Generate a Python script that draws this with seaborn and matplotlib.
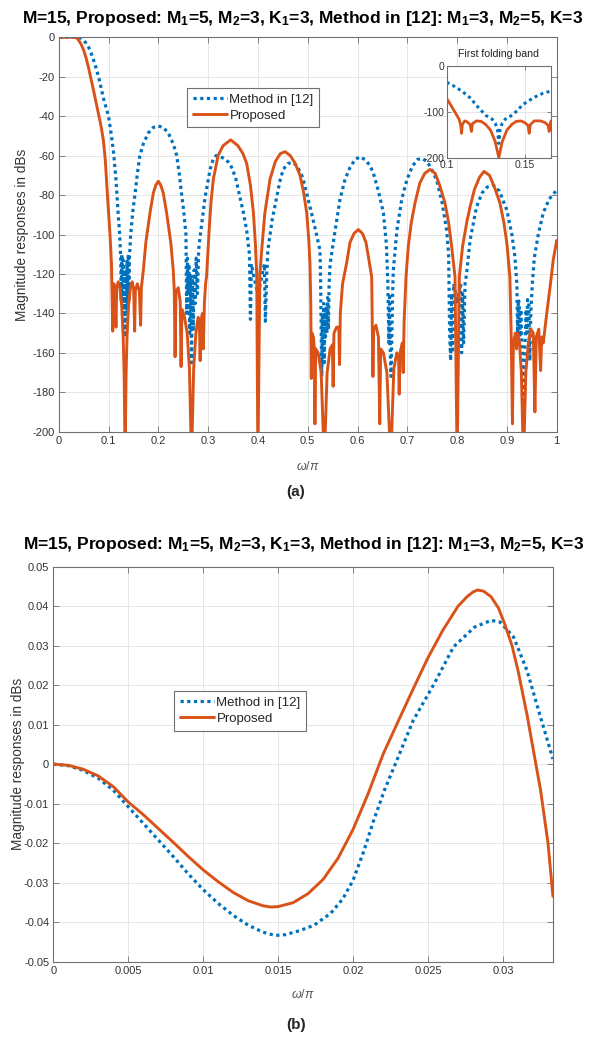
import matplotlib
matplotlib.use("Agg")
import matplotlib.pyplot as plt
import seaborn as sns
import pandas as pd

# ---------------- (a) full band, dB ----------------
omega_method_a = [0.000, 0.010, 0.020, 0.030, 0.040, 0.045, 0.050, 0.055, 0.060, 0.065, 0.070, 0.075,
                  0.080, 0.090, 0.100, 0.106, 0.110, 0.115, 0.119, 0.1225,
                  0.1245, 0.1255, 0.1268, 0.1282, 0.1296, 0.1310, 0.1322, 0.1333, 0.1344, 0.1356,
                  0.1370, 0.1384, 0.1398, 0.1411, 0.1421, 0.1445,
                  0.1490, 0.1530, 0.1580, 0.1630, 0.1700, 0.1800, 0.1900, 0.2000, 0.2100, 0.2200,
                  0.2300, 0.2370, 0.2420, 0.2470, 0.2510, 0.2555,
                  0.2570, 0.2585, 0.2600, 0.2615, 0.2630, 0.2648, 0.2667, 0.2686, 0.2703, 0.2720,
                  0.2740, 0.2760, 0.2785, 0.2810, 0.2840,
                  0.2940, 0.3040, 0.3100, 0.3160, 0.3250, 0.3350, 0.3440, 0.3550, 0.3640, 0.3710,
                  0.3775, 0.3830, 0.3850, 0.3870, 0.3910, 0.3950, 0.4000, 0.4050, 0.4090, 0.4130,
                  0.4150, 0.4176, 0.4200, 0.4290, 0.4377, 0.4450, 0.4510, 0.4600, 0.4700, 0.4780,
                  0.4900, 0.5046, 0.5150, 0.5247,
                  0.5260, 0.5270, 0.5282, 0.5295, 0.5310, 0.5322, 0.5333, 0.5345, 0.5357, 0.5370,
                  0.5385, 0.5400, 0.5415, 0.5430, 0.5450,
                  0.5550, 0.5650, 0.5750, 0.5850, 0.5950, 0.6050, 0.6150, 0.6250, 0.6320, 0.6420,
                  0.6520, 0.6580,
                  0.6610, 0.6630, 0.6645, 0.6660, 0.6675, 0.6690, 0.6705, 0.6720,
                  0.6790, 0.6890, 0.6990, 0.7100, 0.7200, 0.7290, 0.7400, 0.7500, 0.7590, 0.7700,
                  0.7790, 0.7830, 0.7850, 0.7870, 0.7890, 0.7910, 0.7930, 0.7970, 0.8000, 0.8030,
                  0.8070, 0.8090, 0.8110, 0.8130, 0.8160, 0.8190,
                  0.8260, 0.8390, 0.8500, 0.8600, 0.8730, 0.8850, 0.9000, 0.9100, 0.9160,
                  0.9200, 0.9215, 0.9230, 0.9250, 0.9265, 0.9280, 0.9305, 0.9333, 0.9360, 0.9385,
                  0.9400, 0.9415, 0.9440, 0.9460, 0.9480, 0.9510,
                  0.9550, 0.9630, 0.9730, 0.9850, 1.0000]
mag_method_a = [0, 0, 0, 0, 0, -0.5, -1.5, -3, -5, -8, -11.5, -15.5,
                -20, -31, -40, -50, -58, -72, -88, -100,
                -112, -134, -110, -138, -113, -140, -118, -152, -118, -140,
                -113, -138, -110, -134, -112, -100,
                -88, -80, -69, -60, -54, -48.5, -45.7, -45, -45.7, -48.5,
                -54, -60, -69, -80, -88, -100,
                -140, -112, -128, -115, -150, -120, -165, -122, -148, -118,
                -135, -112, -130, -108, -101,
                -81, -67, -62, -60, -60.5, -62, -64, -71, -81, -89,
                -98, -110, -143, -115, -120, -125, -130, -125, -120, -115,
                -144, -121, -108, -92, -81, -72, -67, -64, -63.5, -65,
                -71, -86, -97, -108,
                -125, -148, -172, -140, -150, -135, -165, -138, -152, -136,
                -150, -132, -148, -125, -115,
                -98, -82, -72, -66, -62, -60.6, -62, -65, -69, -78,
                -89, -105,
                -125, -155, -130, -162, -172, -150, -130, -118,
                -98, -82, -72.4, -65.5, -62, -61.4, -63, -67.5, -72.4, -84,
                -98, -110, -150, -164, -130, -160, -125, -130, -135, -130,
                -125, -160, -130, -155, -125, -120,
                -103, -86, -79, -76, -75, -78, -87.7, -100, -111,
                -125, -150, -133, -135, -152, -138, -160, -191, -160, -138,
                -150, -133, -135, -164, -140, -125,
                -112, -100, -89, -82, -77.5]

omega_proposed_a = [0.000, 0.010, 0.020, 0.030, 0.036, 0.040, 0.045, 0.050, 0.055, 0.060, 0.064,
                    0.070, 0.075, 0.080, 0.085, 0.0896, 0.0935, 0.0976, 0.1005, 0.103, 0.106,
                    0.1075, 0.1085, 0.1095, 0.1110, 0.1130, 0.1150, 0.1165, 0.1195, 0.1230, 0.1265,
                    0.1295, 0.1315, 0.1333, 0.1352, 0.1372, 0.1402, 0.1440, 0.1475, 0.1505, 0.1525,
                    0.1540, 0.1580, 0.1620, 0.1645, 0.1660,
                    0.1700, 0.1750, 0.1833, 0.1900, 0.1950, 0.2000, 0.2050, 0.2100, 0.2167, 0.2250,
                    0.2300,
                    0.2320, 0.2337, 0.2355, 0.2400, 0.2440, 0.2457, 0.2475, 0.2520, 0.2580, 0.2625,
                    0.2667, 0.2710, 0.2755, 0.2800, 0.2825, 0.2840, 0.2855, 0.2885, 0.2905, 0.2925,
                    0.2950, 0.2970,
                    0.3020, 0.3060, 0.3105, 0.3200, 0.3300, 0.3454, 0.3600, 0.3700, 0.3775, 0.3850,
                    0.3910, 0.3950, 0.3976, 0.4000, 0.4040,
                    0.4076, 0.4140, 0.4243, 0.4350, 0.4450, 0.4545, 0.4650, 0.4750, 0.4846, 0.4920,
                    0.4980, 0.5020, 0.5046,
                    0.5062, 0.5072, 0.5085, 0.5115, 0.5135, 0.5145, 0.5160, 0.5210, 0.5270, 0.5333,
                    0.5390, 0.5450, 0.5495, 0.5511, 0.5527, 0.5580, 0.5625, 0.5639, 0.5655, 0.5700,
                    0.5780, 0.5850, 0.5930, 0.6016, 0.6100, 0.6170, 0.6217, 0.6285,
                    0.6300, 0.6310, 0.6325, 0.6370, 0.6420, 0.6447, 0.6465, 0.6520, 0.6590, 0.6667,
                    0.6730, 0.6790, 0.6825, 0.6837, 0.6855, 0.6900, 0.6918, 0.6935, 0.6974,
                    0.7020, 0.7080, 0.7155, 0.7250, 0.7350, 0.7456, 0.7560, 0.7650, 0.7757, 0.7830,
                    0.7890, 0.7958, 0.8000, 0.8045,
                    0.8110, 0.8200, 0.8260, 0.8350, 0.8450, 0.8540, 0.8650, 0.8750, 0.8860, 0.8940,
                    0.9000, 0.9060,
                    0.9085, 0.9111, 0.9130, 0.9170, 0.9192, 0.9215, 0.9250, 0.9290, 0.9333, 0.9380,
                    0.9430, 0.9480, 0.9530, 0.9562, 0.9590, 0.9640, 0.9677, 0.9700, 0.9730,
                    0.9800, 0.9870, 0.9930, 1.0000]
mag_proposed_a = [0, 0, 0, 0, -0.3, -1.5, -3.5, -6.5, -10.5, -15.5, -20,
                  -27, -33, -39, -45, -52, -62, -79, -90, -100, -115,
                  -135, -149, -127, -125, -131, -147, -127, -124, -127, -136,
                  -152, -172, -215, -172, -152, -136, -127, -124, -128, -149,
                  -128, -125, -129, -146, -127,
                  -118, -104, -89, -79, -75, -73, -75, -79, -89, -104,
                  -118,
                  -128, -162, -129, -127, -134, -167, -138, -141, -150, -168,
                  -215, -168, -150, -142, -145, -164, -144, -140, -158, -135,
                  -125, -121,
                  -98, -83, -72, -60, -55, -52, -55, -59, -64, -75,
                  -89, -105, -120, -215, -120,
                  -108, -89, -72, -63, -59, -58, -60, -64, -70, -79,
                  -89, -102, -115,
                  -135, -173, -150, -152, -158, -196, -158, -160, -170, -215,
                  -170, -158, -156, -177, -150, -147, -147, -166, -140, -125,
                  -114.7, -104, -99.5, -97.5, -99.5, -104, -111, -121.5,
                  -150, -172, -148, -146, -152, -196, -158, -160, -170, -215,
                  -168, -160, -162, -181, -160, -155, -170, -145, -121.5,
                  -106, -94, -84, -74, -69, -67, -69, -75, -84, -94,
                  -106, -121.5, -215, -121.5,
                  -106, -93, -86, -77, -71, -68, -70, -76, -84, -94,
                  -104.6, -121.5,
                  -150, -196, -155, -150, -158, -150, -154, -170, -215, -170,
                  -155, -148, -150, -190, -152, -148, -169, -152, -155,
                  -140, -126, -113, -103]

# ---------------- inset: first folding band ----------------
omega_method_in = [0.1000, 0.1050, 0.1100, 0.1150, 0.1200, 0.1250, 0.1290, 0.1310, 0.1325, 0.1333,
                   0.1341, 0.1355, 0.1375, 0.1400, 0.1450, 0.1485, 0.1530, 0.1570, 0.1615, 0.1667]
mag_method_in = [-36, -45, -56, -70, -90, -108, -116, -125, -140, -169,
                 -140, -125, -116, -112, -98, -85, -75, -67, -60, -55]

omega_proposed_in = [0.1000, 0.1030, 0.1060, 0.1080, 0.1090, 0.1095, 0.1100, 0.1115, 0.1130, 0.1150,
                     0.1158, 0.1165, 0.1190, 0.1220, 0.1250, 0.1280, 0.1310, 0.1333, 0.1355, 0.1385,
                     0.1415, 0.1445, 0.1475, 0.1500, 0.1520, 0.1527, 0.1535, 0.1560, 0.1600, 0.1630,
                     0.1648, 0.1655, 0.1662, 0.1667]
mag_proposed_in = [-71, -88, -105, -117, -130, -147, -128, -120, -122, -128,
                   -143, -126, -120, -121, -128, -140, -165, -200, -165, -140,
                   -128, -121, -120, -124, -130, -147, -128, -120, -120, -124,
                   -130, -143, -126, -120]

# ---------------- (b) passband detail ----------------
omega_method_b = [0.000, 0.001, 0.002, 0.003, 0.004, 0.005, 0.006, 0.007, 0.008, 0.009, 0.010,
                  0.011, 0.012, 0.013, 0.014, 0.0148, 0.0155, 0.0165, 0.0174, 0.0185, 0.0193,
                  0.0200, 0.0207, 0.02134, 0.0221, 0.0229, 0.0240, 0.0254, 0.0267, 0.0281, 0.0292,
                  0.0298, 0.0307, 0.0316, 0.0325, 0.03333]
mag_method_b = [0.0, -0.0004, -0.0016, -0.0036, -0.0066, -0.0108, -0.0150, -0.0192, -0.0234, -0.0278, -0.0318,
                -0.0353, -0.0383, -0.0408, -0.0426, -0.0434, -0.0432, -0.0421, -0.0408, -0.0378, -0.0342,
                -0.0294, -0.0222, -0.0146, -0.0065, 0.0008, 0.0110, 0.0203, 0.0297, 0.0347, 0.0364,
                0.0360, 0.0322, 0.0237, 0.0119, 0.0013]

omega_proposed_b = [0.000, 0.001, 0.002, 0.003, 0.004, 0.005, 0.006, 0.007, 0.008, 0.009, 0.010,
                    0.011, 0.012, 0.013, 0.014, 0.0145, 0.015, 0.016, 0.017, 0.018, 0.019,
                    0.020, 0.021, 0.022, 0.023, 0.024, 0.025, 0.026, 0.027, 0.0276, 0.028,
                    0.0283, 0.0287, 0.0292, 0.0297, 0.0301, 0.0306, 0.031, 0.0316, 0.032, 0.0325,
                    0.033, 0.03333]
mag_proposed_b = [0.0, -0.0003, -0.0013, -0.0030, -0.0057, -0.0096, -0.0128, -0.0163, -0.0198, -0.0234, -0.0268,
                  -0.0298, -0.0325, -0.0346, -0.0359, -0.0362, -0.0361, -0.0351, -0.0328, -0.0292, -0.0238,
                  -0.0165, -0.0075, 0.0025, 0.0108, 0.0190, 0.0270, 0.0340, 0.0400, 0.0424, 0.0436,
                  0.0441, 0.0438, 0.0424, 0.0395, 0.0356, 0.0300, 0.0237, 0.0125, 0.0040, -0.0065,
                  -0.0200, -0.0335]

series_labels = ["Method in [12]", "Proposed"]
title_text = (r"M=15, Proposed: M$_\mathbf{1}$=5, M$_\mathbf{2}$=3, K$_\mathbf{1}$=3, "
              r"Method in [12]: M$_\mathbf{1}$=3, M$_\mathbf{2}$=5, K=3")
xticks_a = [0, 0.1, 0.2, 0.3, 0.4, 0.5, 0.6, 0.7, 0.8, 0.9, 1.0]
xticklabels_a = ["0", "0.1", "0.2", "0.3", "0.4", "0.5", "0.6", "0.7", "0.8", "0.9", "1"]
yticks_a = [0, -20, -40, -60, -80, -100, -120, -140, -160, -180, -200]
xticks_b = [0, 0.005, 0.01, 0.015, 0.02, 0.025, 0.03]
xticklabels_b = ["0", "0.005", "0.01", "0.015", "0.02", "0.025", "0.03"]
yticks_b = [0.05, 0.04, 0.03, 0.02, 0.01, 0, -0.01, -0.02, -0.03, -0.04, -0.05]
yticklabels_b = ["0.05", "0.04", "0.03", "0.02", "0.01", "0", "-0.01", "-0.02", "-0.03", "-0.04", "-0.05"]

# ---------------- styling ----------------
sns.set_theme(style="white")
plt.rcParams["font.family"] = ["Liberation Sans", "DejaVu Sans"]
plt.rcParams["mathtext.fontset"] = "custom"
plt.rcParams["mathtext.rm"] = "Liberation Sans"
plt.rcParams["mathtext.it"] = "Liberation Sans:italic"
plt.rcParams["mathtext.bf"] = "Liberation Sans:bold"
plt.rcParams["axes.unicode_minus"] = False

BLUE = "#0072BD"
ORANGE = "#D95319"
EDGE = "#707070"
DOTS = (0, (1.0, 1.1))

W, H = 593, 1039
fig = plt.figure(figsize=(W / 100, H / 100), dpi=100)
fig.patch.set_facecolor("white")


def box(l, t, r, b):
    return [l / W, 1 - b / H, (r - l) / W, (b - t) / H]


ax1 = fig.add_axes(box(58.7, 37.3, 556.7, 431.7))
ax2 = fig.add_axes(box(53.3, 566.7, 553.0, 961.5))
axin = fig.add_axes(box(446.7, 65.7, 551.0, 157.7))


def style(ax, fs=8):
    ax.set_facecolor("white")
    for s in ax.spines.values():
        s.set_visible(True)
        s.set_color(EDGE)
        s.set_linewidth(0.8)
    ax.tick_params(direction="in", length=4, width=0.6, color=EDGE, labelcolor="#333333",
                   labelsize=fs, top=True, right=True, bottom=True, left=True, pad=3)
    ax.grid(True, color="#e2e2e2", linewidth=0.6)
    ax.set_axisbelow(True)


def draw(ax, xm, ym, xp, yp, lw=2.1, label=True):
    dfm = pd.DataFrame({"omega": xm, "mag": ym})
    dfp = pd.DataFrame({"omega": xp, "mag": yp})
    sns.lineplot(data=dfm, x="omega", y="mag", ax=ax, color=BLUE, linewidth=lw + 0.2,
                 linestyle=DOTS, estimator=None, sort=False, legend=False,
                 label=series_labels[0] if label else None)
    sns.lineplot(data=dfp, x="omega", y="mag", ax=ax, color=ORANGE, linewidth=lw,
                 estimator=None, sort=False, legend=False,
                 label=series_labels[1] if label else None)


def legend(ax, anchor):
    leg = ax.legend(loc="upper left", bbox_to_anchor=anchor, borderaxespad=0,
                    frameon=True, fancybox=False, edgecolor=EDGE, fontsize=9.5,
                    handlelength=2.6, handletextpad=0.2, labelspacing=0.3, borderpad=0.42)
    leg.get_frame().set_linewidth(0.8)
    leg.get_frame().set_alpha(1)
    return leg


# (a)
draw(ax1, omega_method_a, mag_method_a, omega_proposed_a, mag_proposed_a)
style(ax1)
ax1.set_xlim(0, 1)
ax1.set_ylim(-200, 0)
ax1.set_xticks(xticks_a)
ax1.set_xticklabels(xticklabels_a)
ax1.set_yticks(yticks_a)
ax1.set_yticklabels([str(v) for v in yticks_a])
ax1.set_xlabel(r"$\omega/\pi$", fontsize=9, color="#555555")
ax1.set_ylabel("Magnitude responses in dBs", fontsize=9.8, color="#333333")
ax1.xaxis.set_label_coords(0.5, -0.072)
ax1.yaxis.set_label_coords(-0.06, 0.5)
legend(ax1, (0.2576, 0.8715))

# inset
draw(axin, omega_method_in, mag_method_in, omega_proposed_in, mag_proposed_in, lw=2.0, label=False)
style(axin, fs=7.5)
axin.set_xlim(0.1, 1 / 6)
axin.set_ylim(-200, 0)
axin.set_xticks([0.1, 0.15])
axin.set_xticklabels(["0.1", "0.15"])
axin.set_yticks([-200, -100, 0])
axin.set_yticklabels(["-200", "-100", "0"])
axin.tick_params(length=3, pad=2)
axin.set_xlabel("")
axin.set_ylabel("")
axin.set_title("First folding band", fontsize=7.6, color="#222222", pad=6)

# (b)
draw(ax2, omega_method_b, mag_method_b, omega_proposed_b, mag_proposed_b)
style(ax2)
ax2.set_xlim(0, 1 / 30)
ax2.set_ylim(-0.05, 0.05)
ax2.set_xticks(xticks_b)
ax2.set_xticklabels(xticklabels_b)
ax2.set_yticks(yticks_b)
ax2.set_yticklabels(yticklabels_b)
ax2.set_xlabel(r"$\omega/\pi$", fontsize=9, color="#555555")
ax2.set_ylabel("Magnitude responses in dBs", fontsize=9.8, color="#333333")
ax2.xaxis.set_label_coords(0.5, -0.068)
ax2.yaxis.set_label_coords(-0.057, 0.5)
legend(ax2, (0.2415, 0.685))

# titles & captions
fig.text(0.51, 1 - 18 / H, title_text, ha="center", va="center", fontsize=12.5,
         fontweight="bold", color="black")
fig.text(0.512, 1 - 545 / H, title_text, ha="center", va="center", fontsize=12.5,
         fontweight="bold", color="black")
fig.text(296 / W, 1 - 492 / H, "(a)", ha="center", va="center", fontsize=11, fontweight="bold")
fig.text(296 / W, 1 - 1025 / H, "(b)", ha="center", va="center", fontsize=11, fontweight="bold")

fig.savefig("out.png", dpi=100, facecolor="white")
